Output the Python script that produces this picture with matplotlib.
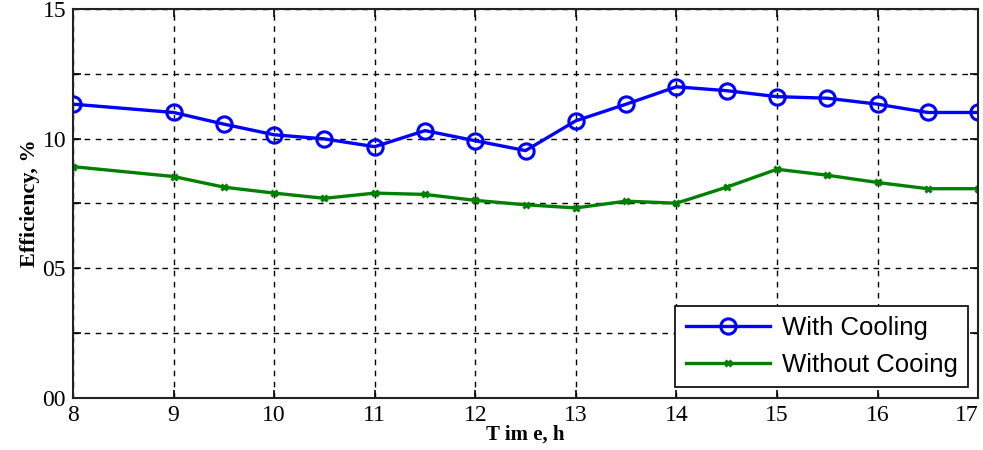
import numpy as np
import matplotlib.pyplot as plt
from matplotlib.ticker import MultipleLocator, FuncFormatter

# readings every half hour from 9:00, plus the 8:00 start
hours = [8, 9, 9.5, 10, 10.5, 11, 11.5, 12, 12.5,
         13, 13.5, 14, 14.5, 15, 15.5, 16, 16.5, 17]
eff_cooling = [11.33, 11.01, 10.56, 10.15, 9.99, 9.69, 10.31, 9.92, 9.54,
               10.69, 11.33, 12.0, 11.85, 11.62, 11.56, 11.33, 11.01, 11.01]
eff_no_cooling = [8.92, 8.54, 8.13, 7.90, 7.70, 7.90, 7.85, 7.62, 7.45,
                  7.33, 7.59, 7.51, 8.13, 8.82, 8.59, 8.31, 8.07, 8.07]
hour_ticks = list(range(8, 18))

fig = plt.figure(figsize=(9.83, 4.5), dpi=100)
ax = fig.add_axes([0.0743, 0.1156, 0.9207, 0.8644])

ax.plot(hours, eff_cooling, color="#0000ff", lw=2.4, marker="o",
        markersize=11, markerfacecolor="none", markeredgewidth=2.2,
        label="With Cooling")
ax.plot(hours, eff_no_cooling, color="#008000", lw=2.4, marker="x",
        markersize=5, markeredgewidth=2.2, label="Without Cooing")

ax.set_xlim(8, 17)
ax.set_ylim(0, 15)
ax.set_xticks(hour_ticks, [str(h) for h in hour_ticks])
ax.yaxis.set_major_locator(MultipleLocator(2.5))
ax.yaxis.set_major_formatter(FuncFormatter(
    lambda v, p: "%02d" % v if abs(v % 5) < 1e-6 else ""))

ax.grid(True, color="black", linestyle=(0, (4, 4)), lw=1.0)
ax.tick_params(direction="in", length=6, width=1.2, top=True, right=True,
               labelsize=17, pad=5)
for lab in ax.get_xticklabels() + ax.get_yticklabels():
    lab.set_family("Liberation Serif")
# last hour label pulled inside the right edge
ax.get_xticklabels()[-1].set_ha("right")
for s in ax.spines.values():
    s.set_linewidth(1.5)
    s.set_color("#222222")

ax.set_xlabel("T im e, h", family="Liberation Serif", fontweight="bold",
              fontsize=15, labelpad=-1)
ax.set_ylabel("Efficiency, %", family="Liberation Serif", fontweight="bold",
              fontsize=16, labelpad=2)

leg = ax.legend(loc="lower right", bbox_to_anchor=(0.989, 0.028),
                borderaxespad=0,
                prop={"family": "Liberation Sans", "size": 18.5},
                handlelength=3.3, handletextpad=0.45, fancybox=False,
                framealpha=1, edgecolor="black", borderpad=0.4,
                labelspacing=0.5)
leg.get_frame().set_linewidth(1.2)

fig.savefig("out.png", dpi=100)
